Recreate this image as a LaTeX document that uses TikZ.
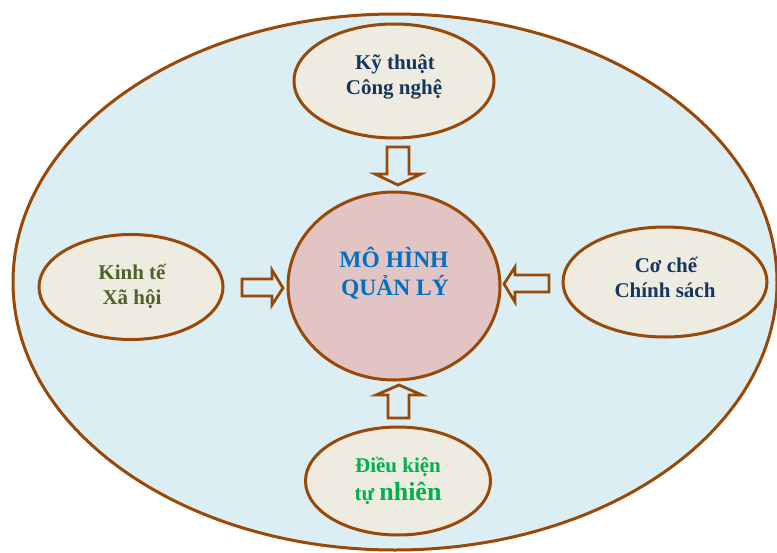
\documentclass[tikz,border=0pt]{standalone}
\usepackage{fontspec}
\setmainfont{Liberation Serif}
\usetikzlibrary{shapes.geometric}
\definecolor{rim}{HTML}{984807}
\definecolor{sky}{HTML}{DBEEF3}
\definecolor{tan}{HTML}{EEECE1}
\definecolor{rose}{HTML}{E3C4C5}
\definecolor{navy}{HTML}{17365D}
\definecolor{azure}{HTML}{0070C0}
\definecolor{olive}{HTML}{4F6228}
\definecolor{leaf}{HTML}{00B050}
\tikzset{
  oval/.style={ellipse, draw=rim, line width=3pt, fill=tan, inner sep=0pt},
  hub/.style={ellipse, draw=rim, line width=3pt, fill=rose, inner sep=0pt},
  blockarrow/.style={draw=rim, line width=2.8pt, fill=sky, line join=miter},
  txt/.style={anchor=base, inner sep=0pt, font=\bfseries\fontsize{21}{25}\selectfont},
  bigtxt/.style={anchor=base, inner sep=0pt, font=\bfseries\fontsize{23.5}{28}\selectfont, text=azure}
}
\begin{document}
\begin{tikzpicture}[x=1pt, y=-1pt]
\useasboundingbox (0,0) rectangle (777,552);
\fill[white] (0,0) rectangle (777,552);
% outer field
\node[ellipse, draw=rim, line width=3pt, fill=sky, inner sep=0pt,
      minimum width=764pt, minimum height=536pt] (field) at (395,282) {};
% factor ovals and the central model
\node[hub,  minimum width=212pt, minimum height=188pt] (model) at (394,286) {};
\node[oval, minimum width=200pt, minimum height=114pt] (tech)  at (394,81) {};
\node[oval, minimum width=184pt, minimum height=105pt] (econ)  at (131,287) {};
\node[oval, minimum width=204pt, minimum height=110pt] (policy) at (665,282) {};
\node[oval, minimum width=185pt, minimum height=108pt] (nature) at (398,481) {};
% block arrows pointing at the model
\draw[blockarrow] (387,147) -- (409,147) -- (409,174) -- (421,174) -- (398,185)
   -- (375,174) -- (387,174) -- cycle;
\draw[blockarrow] (388,418) -- (409,418) -- (409,395) -- (422,395) -- (399,385)
   -- (376,395) -- (388,395) -- cycle;
\draw[blockarrow] (242,279) -- (272,279) -- (272,270) -- (283,288) -- (272,305)
   -- (272,296) -- (242,296) -- cycle;
\draw[blockarrow] (549,275) -- (515,275) -- (515,267) -- (504,284) -- (515,302)
   -- (515,292) -- (549,292) -- cycle;
% labels
\node[txt, text=navy] (techA) at (395,69) {Kỹ thuật};
\node[txt, text=navy] (techB) at (394,94) {Công nghệ};
\node[bigtxt] (modelA) at (394,267) {MÔ HÌNH};
\node[bigtxt] (modelB) at (395,295) {QUẢN LÝ};
\node[txt, text=olive] (econA) at (132,279) {Kinh tế};
\node[txt, text=olive] (econB) at (132,304) {Xã hội};
\node[txt, text=navy] (policyA) at (666,272) {Cơ chế};
\node[txt, text=navy] (policyB) at (665,297) {Chính sách};
\node[txt, text=leaf] (natureA) at (398,472) {Điều kiện};
\node[txt, text=leaf] (natureB) at (398,500) {tự {\fontsize{26}{29}\selectfont nhiên}};
\end{tikzpicture}
\end{document}
